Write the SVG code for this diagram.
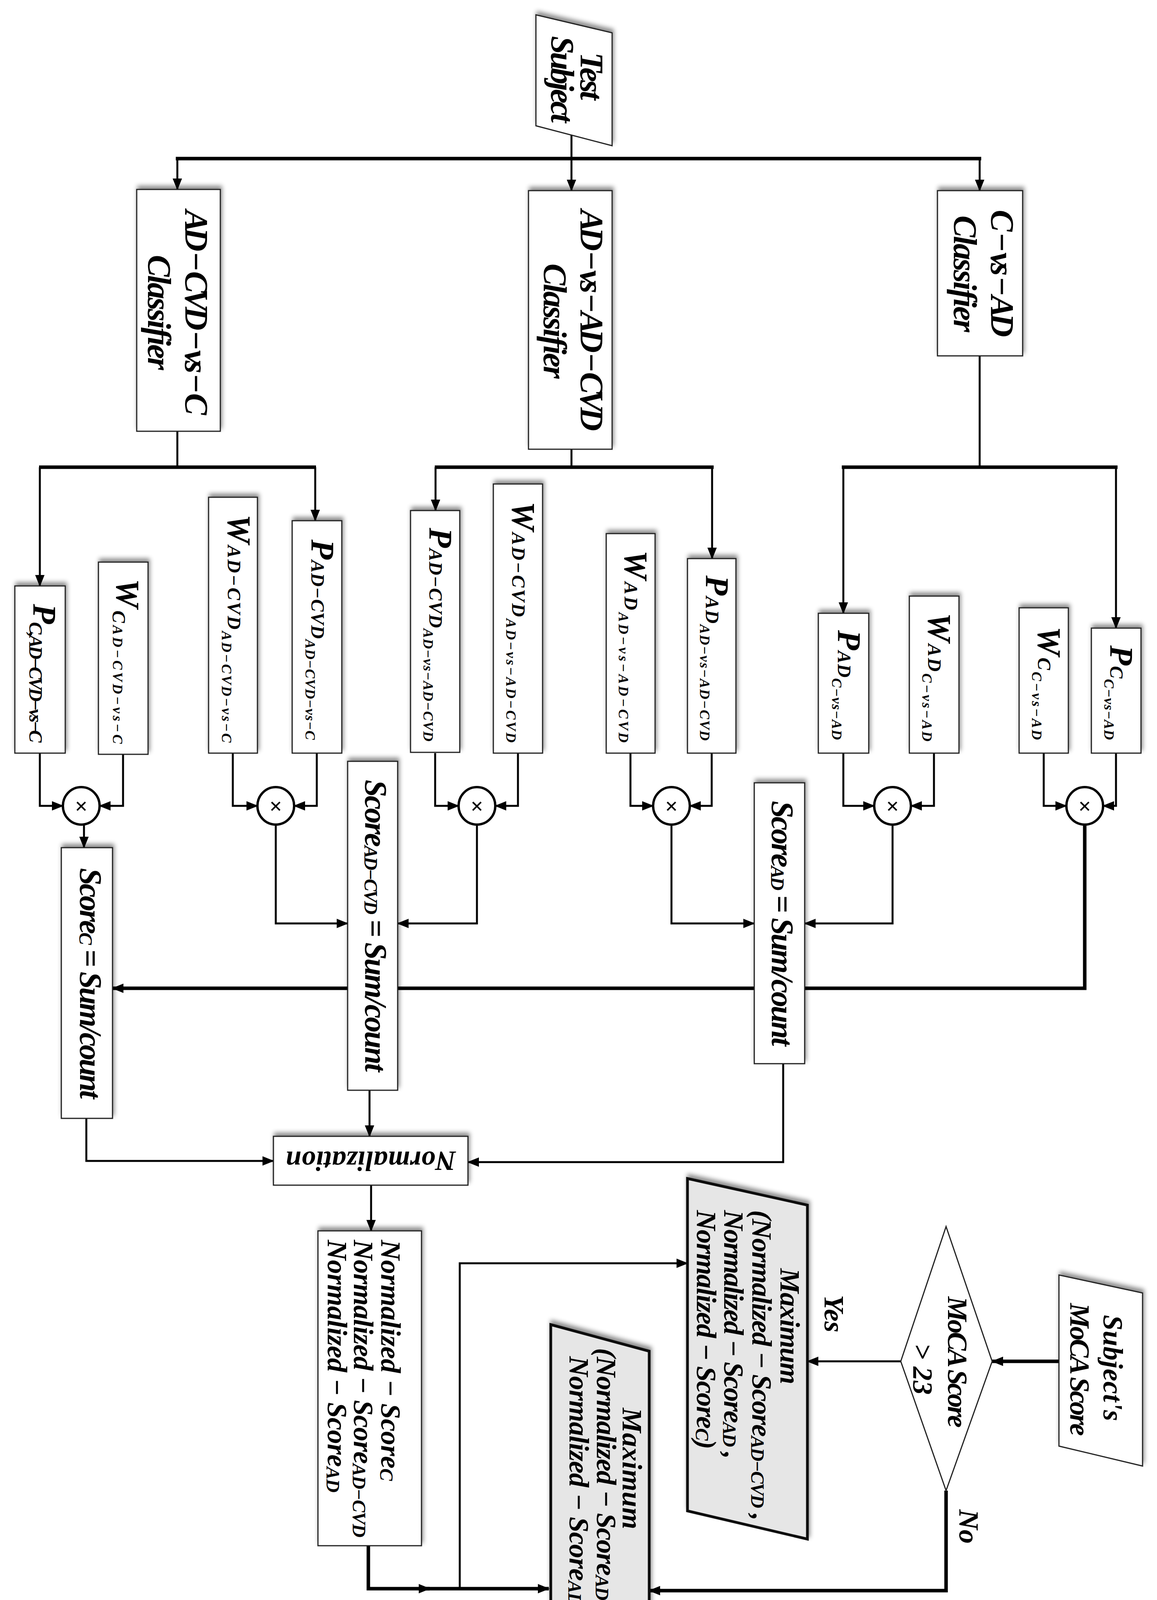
<svg xmlns="http://www.w3.org/2000/svg" width="2962" height="4331" viewBox="0 0 2962 4331">
<style>
.box{fill:#fff;stroke:#222;stroke-width:3;filter:url(#sh)}
.gbox{fill:#e6e6e6;stroke:#111;stroke-width:7;filter:url(#sh)}
.ln{fill:none;stroke:#000;stroke-width:5}
.tk{fill:none;stroke:#000;stroke-width:9}
.ar{marker-end:url(#ah)}
text{font-family:"Liberation Serif","DejaVu Serif",serif;font-weight:bold;font-style:italic;fill:#000;dominant-baseline:central}
.c{font-size:84px}
.m{font-size:84px}
.s{font-size:48px}
.ss{font-size:36px}
.sc{font-size:80px}
.n{font-size:72px}
.x{font-size:58px;font-style:normal}
</style>
<defs>
<filter id="sh" x="-20%" y="-20%" width="140%" height="140%"><feDropShadow dx="3" dy="-8" stdDeviation="6" flood-color="#000" flood-opacity="0.45"/></filter>
<marker id="ah" markerUnits="userSpaceOnUse" markerWidth="30" markerHeight="24" refX="28" refY="12" orient="auto"><path d="M0,0 L30,12 L0,24 z" fill="#000"/></marker>
</defs>
<g id="connectors">
<path class="ln" d="M1463,346 V406"/>
<path class="tk" d="M450,406 H2512"/>
<path class="ln ar" d="M454,406 V485"/>
<path class="ln ar" d="M1463,406 V488"/>
<path class="ln ar" d="M2508,406 V488"/>
<path class="ln" d="M454,1104 V1196"/>
<path class="ln" d="M1463,1150 V1196"/>
<path class="ln" d="M2508,911 V1196"/>
<path class="tk" d="M100,1196 H809"/>
<path class="tk" d="M1113,1196 H1827"/>
<path class="tk" d="M2155,1196 H2861"/>
<path class="ln ar" d="M102,1196 V1500"/>
<path class="ln ar" d="M807,1196 V1333"/>
<path class="ln ar" d="M1115,1196 V1307"/>
<path class="ln ar" d="M1823,1196 V1430"/>
<path class="ln ar" d="M2159,1196 V1570"/>
<path class="ln ar" d="M2857,1196 V1608"/>
<path class="ln ar" d="M102,1928 V2063 H161"/><path class="ln ar" d="M315,1928 V2063 H255"/>
<path class="ln ar" d="M596,1928 V2063 H659"/><path class="ln ar" d="M811,1928 V2063 H753"/>
<path class="ln ar" d="M1114,1928 V2063 H1174"/><path class="ln ar" d="M1326,1928 V2063 H1268"/>
<path class="ln ar" d="M1614,1928 V2063 H1672"/><path class="ln ar" d="M1822,1928 V2063 H1766"/>
<path class="ln ar" d="M2159,1928 V2063 H2238"/><path class="ln ar" d="M2391,1928 V2063 H2332"/>
<path class="ln ar" d="M2672,1928 V2063 H2730"/><path class="ln ar" d="M2857,1928 V2063 H2824"/>
<path class="ln ar" d="M215,2111 V2170"/>
<path class="ln ar" d="M706,2111 V2364 H890"/>
<path class="ln ar" d="M1221,2111 V2364 H1018"/>
<path class="ln ar" d="M1719,2111 V2364 H1931"/>
<path class="ln ar" d="M2285,2111 V2364 H2060"/>
<path class="tk ar" d="M2777,2111 V2530 H288"/>
<path class="ln ar" d="M221,2863 V2972 H700"/>
<path class="ln ar" d="M946,2791 V2909"/>
<path class="ln ar" d="M2005,2723 V2975 H1198"/>
<path class="ln ar" d="M950,3034 V3151"/>
<path class="tk ar" d="M943,3957 V4067 H1100"/>
<path class="tk ar" d="M1090,4067 H1405"/>
<path class="ln ar" d="M1177,4067 V3234 H1760"/>
<path class="tk ar" d="M2711,3485 H2540"/>
<path class="ln ar" d="M2306,3485 H2067"/>
<path class="tk ar" d="M2422,3816 V4072 H1662"/>
</g>
<g id="test-subject"><polygon class="box" points="1372,38 1567,84 1567,373 1372,322"/>
<text class="c" text-anchor="middle" textLength="122" transform="translate(1514,195) rotate(90)">Test</text>
<text class="c" text-anchor="middle" textLength="222" transform="translate(1439,203) rotate(90)">Subject</text></g>
<g id="cls-adcvd-vs-c"><rect class="box" x="350" y="485" width="214" height="619"/>
<text class="c" text-anchor="middle" textLength="525" transform="translate(502,800) rotate(90)">AD − CVD − vs − C</text>
<text class="c" text-anchor="middle" textLength="295" transform="translate(407,800) rotate(90)">Classifier</text></g>
<g id="cls-ad-vs-adcvd"><rect class="box" x="1353" y="488" width="214" height="662"/>
<text class="c" text-anchor="middle" textLength="567" transform="translate(1514,820) rotate(90)">AD − vs − AD − CVD</text>
<text class="c" text-anchor="middle" textLength="295" transform="translate(1420,822) rotate(90)">Classifier</text></g>
<g id="cls-c-vs-ad"><rect class="box" x="2400" y="488" width="218" height="423"/>
<text class="c" text-anchor="middle" textLength="326" transform="translate(2565,700) rotate(90)">C − vs − AD</text>
<text class="c" text-anchor="middle" textLength="299" transform="translate(2470,701) rotate(90)">Classifier</text></g>

<g id="b1"><rect class="box" x="38" y="1500" width="129" height="428"/><text textLength="355" transform="translate(114,1546) rotate(90)"><tspan class="m">P</tspan><tspan class="s" dy="22">C,AD−CVD−vs−C</tspan></text></g>
<g id="b2"><rect class="box" x="252" y="1439" width="127" height="492"/><text textLength="422" transform="translate(327,1482) rotate(90)"><tspan class="m">W</tspan><tspan class="s" dy="22">C</tspan><tspan class="ss" dy="4">AD−CVD−vs−C</tspan></text></g>
<g id="b3"><rect class="box" x="534" y="1273" width="125" height="655"/><text textLength="584" transform="translate(612,1317) rotate(90)"><tspan class="m">W</tspan><tspan class="s" dy="12">AD−CVD</tspan><tspan class="ss" dy="20">AD−CVD−vs−C</tspan></text></g>
<g id="b4"><rect class="box" x="748" y="1333" width="127" height="595"/><text textLength="513" transform="translate(826,1381) rotate(90)"><tspan class="m">P</tspan><tspan class="s" dy="12">AD−CVD</tspan><tspan class="ss" dy="20">AD−CVD−vs−C</tspan></text></g>
<g id="b5"><rect class="box" x="1051" y="1307" width="126" height="619"/><text textLength="547" transform="translate(1128,1351) rotate(90)"><tspan class="m">P</tspan><tspan class="s" dy="12">AD−CVD</tspan><tspan class="ss" dy="20">AD−vs−AD−CVD</tspan></text></g>
<g id="b6"><rect class="box" x="1263" y="1239" width="126" height="689"/><text textLength="617" transform="translate(1340,1284) rotate(90)"><tspan class="m">W</tspan><tspan class="s" dy="12">AD−CVD</tspan><tspan class="ss" dy="20">AD−vs−AD−CVD</tspan></text></g>
<g id="b7"><rect class="box" x="1552" y="1366" width="125" height="562"/><text textLength="492" transform="translate(1628,1409) rotate(90)"><tspan class="m">W</tspan><tspan class="s" dy="12">AD</tspan><tspan class="ss" dy="20">AD−vs−AD−CVD</tspan></text></g>
<g id="b8"><rect class="box" x="1760" y="1430" width="124" height="498"/><text textLength="423" transform="translate(1836,1473) rotate(90)"><tspan class="m">P</tspan><tspan class="s" dy="12">AD</tspan><tspan class="ss" dy="20">AD−vs−AD−CVD</tspan></text></g>
<g id="b9"><rect class="box" x="2095" y="1570" width="129" height="358"/><text textLength="281" transform="translate(2174,1613) rotate(90)"><tspan class="m">P</tspan><tspan class="s" dy="12">AD</tspan><tspan class="ss" dy="20">C−vs−AD</tspan></text></g>
<g id="b10"><rect class="box" x="2328" y="1526" width="127" height="402"/><text textLength="329" transform="translate(2405,1569) rotate(90)"><tspan class="m">W</tspan><tspan class="s" dy="12">AD</tspan><tspan class="ss" dy="20">C−vs−AD</tspan></text></g>
<g id="b11"><rect class="box" x="2609" y="1556" width="126" height="372"/><text textLength="290" transform="translate(2686,1604) rotate(90)"><tspan class="m">W</tspan><tspan class="s" dy="12">C</tspan><tspan class="ss" dy="20">C−vs−AD</tspan></text></g>
<g id="b12"><rect class="box" x="2794" y="1608" width="127" height="320"/><text textLength="242" transform="translate(2871,1652) rotate(90)"><tspan class="m">P</tspan><tspan class="s" dy="12">C</tspan><tspan class="ss" dy="20">C−vs−AD</tspan></text></g>

<g id="mul1"><ellipse cx="208" cy="2063" rx="47" ry="48" fill="#fff" stroke="#000" stroke-width="6"/><text class="x" text-anchor="middle" x="208" y="2063">×</text></g>
<g id="mul2"><ellipse cx="706" cy="2063" rx="47" ry="48" fill="#fff" stroke="#000" stroke-width="6"/><text class="x" text-anchor="middle" x="706" y="2063">×</text></g>
<g id="mul3"><ellipse cx="1221" cy="2063" rx="47" ry="48" fill="#fff" stroke="#000" stroke-width="6"/><text class="x" text-anchor="middle" x="1221" y="2063">×</text></g>
<g id="mul4"><ellipse cx="1719" cy="2063" rx="47" ry="48" fill="#fff" stroke="#000" stroke-width="6"/><text class="x" text-anchor="middle" x="1719" y="2063">×</text></g>
<g id="mul5"><ellipse cx="2285" cy="2063" rx="47" ry="48" fill="#fff" stroke="#000" stroke-width="6"/><text class="x" text-anchor="middle" x="2285" y="2063">×</text></g>
<g id="mul6"><ellipse cx="2777" cy="2063" rx="47" ry="48" fill="#fff" stroke="#000" stroke-width="6"/><text class="x" text-anchor="middle" x="2777" y="2063">×</text></g>

<g id="score-c"><rect class="box" x="157" y="2170" width="131" height="693"/><text textLength="591" transform="translate(232,2222) rotate(90)"><tspan class="sc">Score</tspan><tspan class="s" dy="12">C</tspan><tspan class="sc" dy="-12"> = Sum/count</tspan></text></g>
<g id="score-adcvd"><rect class="box" x="890" y="1949" width="128" height="842"/><text textLength="748" transform="translate(962,1996) rotate(90)"><tspan class="sc">Score</tspan><tspan class="s" dy="12">AD−CVD</tspan><tspan class="sc" dy="-12"> = Sum/count</tspan></text></g>
<g id="score-ad"><rect class="box" x="1931" y="2004" width="129" height="719"/><text textLength="628" transform="translate(2003,2050) rotate(90)"><tspan class="sc">Score</tspan><tspan class="s" dy="12">AD</tspan><tspan class="sc" dy="-12"> = Sum/count</tspan></text></g>

<g id="normalization"><rect class="box" x="700" y="2909" width="498" height="125"/><text class="n" text-anchor="middle" textLength="436" transform="translate(949,2972) rotate(180)">Normalization</text></g>

<g id="normalized"><rect class="box" x="814" y="3151" width="265" height="806"/>
<text textLength="617" transform="translate(1000,3174) rotate(90)"><tspan class="n">Normalized − Score</tspan><tspan class="s" dy="10">C</tspan></text>
<text textLength="762" transform="translate(930,3174) rotate(90)"><tspan class="n">Normalized − Score</tspan><tspan class="s" dy="10">AD−CVD</tspan></text>
<text textLength="647" transform="translate(863,3174) rotate(90)"><tspan class="n">Normalized − Score</tspan><tspan class="s" dy="10">AD</tspan></text></g>

<g id="max1"><polygon class="gbox" points="1760,3017 2067,3085 2067,3940 1760,3868"/>
<text class="n" textLength="297" transform="translate(2022,3247) rotate(90)">Maximum</text>
<text textLength="795" transform="translate(1950,3098) rotate(90)"><tspan class="n">(Normalized − Score</tspan><tspan class="s" dy="10">AD−CVD</tspan><tspan class="n" dy="-10"> ,</tspan></text>
<text textLength="637" transform="translate(1878,3098) rotate(90)"><tspan class="n">Normalized − Score</tspan><tspan class="s" dy="10">AD</tspan><tspan class="n" dy="-10"> ,</tspan></text>
<text textLength="612" transform="translate(1808,3098) rotate(90)"><tspan class="n">Normalized − Score</tspan><tspan class="s" dy="10">C</tspan><tspan class="n" dy="-10">)</tspan></text></g>

<g id="max2"><polygon class="gbox" points="1410,3391 1662,3459 1662,4301 1410,4237"/>
<text class="n" textLength="311" transform="translate(1618,3604) rotate(90)">Maximum</text>
<text textLength="799" transform="translate(1552,3451) rotate(90)"><tspan class="n">(Normalized − Score</tspan><tspan class="s" dy="10">AD−CVD</tspan><tspan class="n" dy="-10"> ,</tspan></text>
<text textLength="663" transform="translate(1482,3472) rotate(90)"><tspan class="n">Normalized − Score</tspan><tspan class="s" dy="10">AD</tspan><tspan class="n" dy="-10">)</tspan></text></g>

<g id="moca-decision"><polygon points="2422,3140 2540,3485 2422,3816 2306,3485" fill="#fff" stroke="#222" stroke-width="3"/>
<text class="n" text-anchor="middle" textLength="336" transform="translate(2451,3487) rotate(90)">MoCA Score</text>
<text class="n" text-anchor="middle" transform="translate(2362,3505) rotate(90)">&gt; 23</text></g>

<g id="subject-moca"><polygon class="box" points="2711,3264 2925,3310 2925,3753 2711,3702"/>
<text class="n" text-anchor="middle" textLength="272" transform="translate(2849,3502) rotate(90)">Subject's</text>
<text class="n" text-anchor="middle" textLength="340" transform="translate(2764,3506) rotate(90)">MoCA Score</text></g>

<g id="labels">
<text class="n" text-anchor="middle" transform="translate(2135,3363) rotate(90)">Yes</text>
<text class="n" text-anchor="middle" transform="translate(2480,3908) rotate(90)">No</text>
</g>
</svg>
